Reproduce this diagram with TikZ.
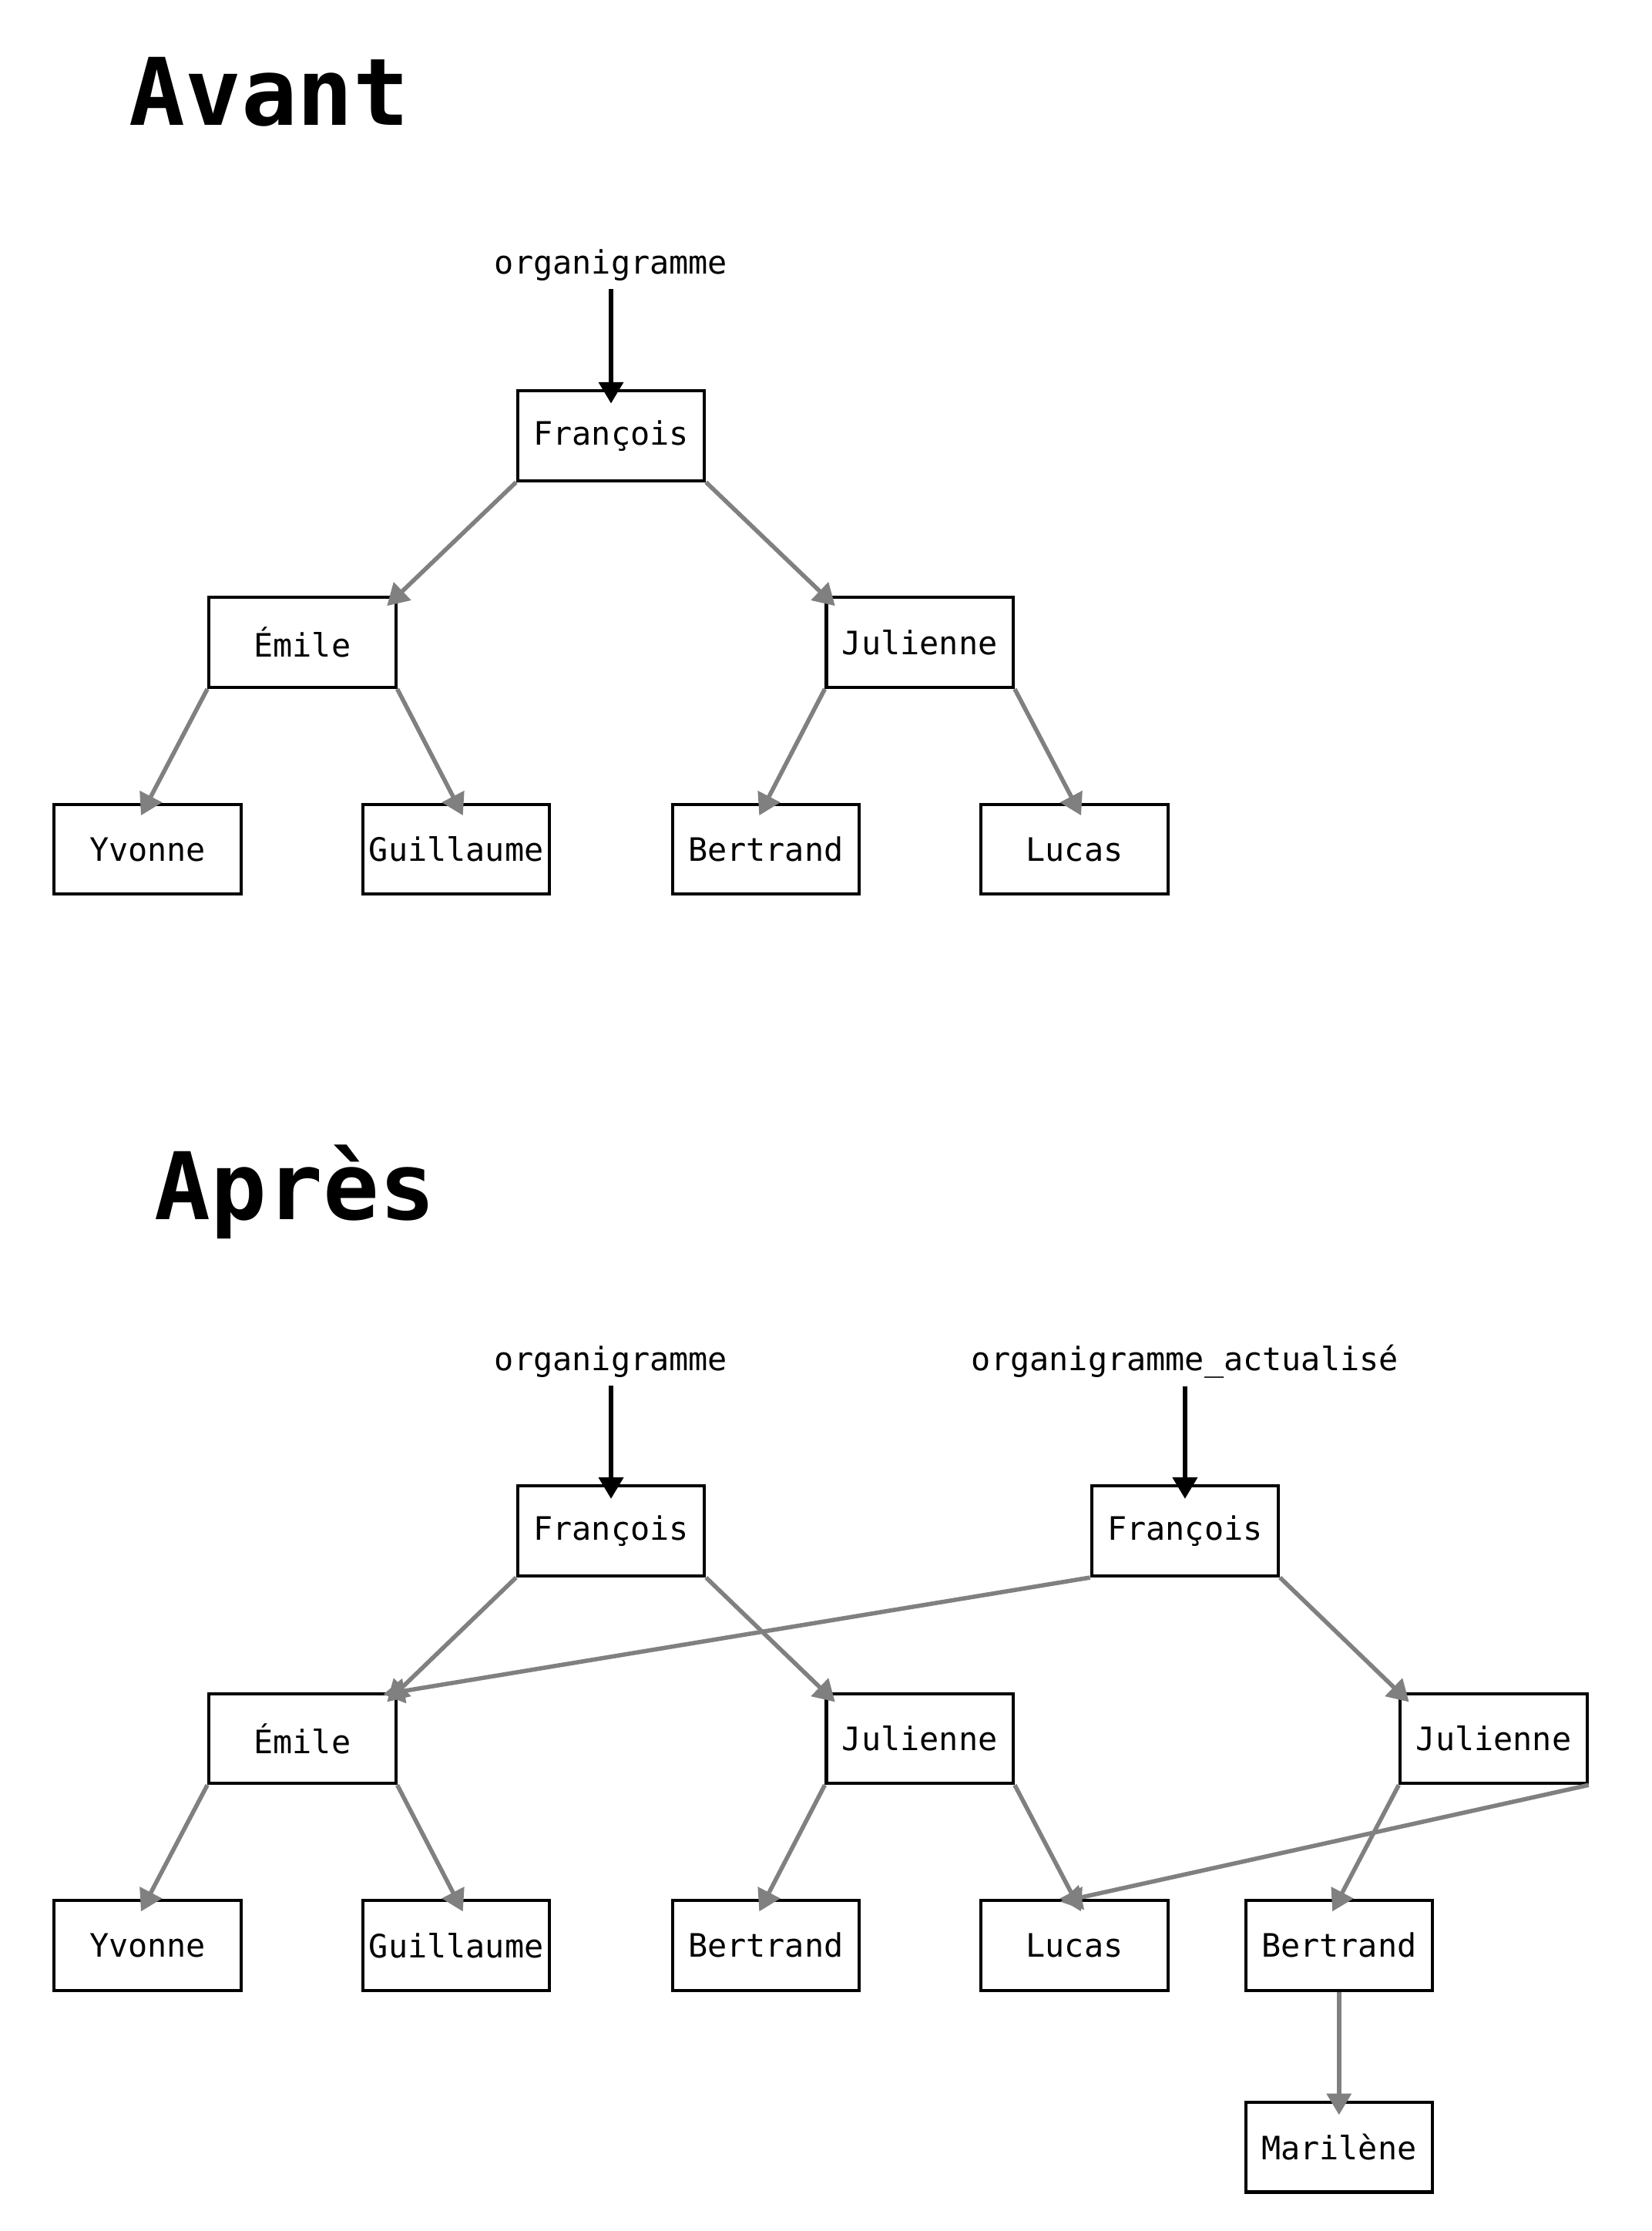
\documentclass[tikz,border=0pt]{standalone}
\usepackage{fontspec}
\setmonofont{DejaVu Sans Mono}
\usepackage{tikz}
\usetikzlibrary{arrows.meta}

\tikzset{
  box/.style={draw, line width=1.1pt, minimum width=65.5pt, minimum height=31.5pt,
    inner sep=0pt, font=\ttfamily\fontsize{11.3}{13}\selectfont},
  nom/.style={inner sep=0pt, outer sep=2.85pt, anchor=base,
    font=\ttfamily\fontsize{11.3}{13}\selectfont},
  titre/.style={inner sep=0pt, anchor=base west,
    font=\ttfamily\bfseries\fontsize{32.7}{38}\selectfont},
  lien/.style={draw=gray, line width=1.5pt, shorten >=-5pt,
    -{Triangle[length=7.5pt,width=8.5pt]}},
  ptr/.style={draw=black, line width=1.5pt, shorten >=-5pt,
    -{Triangle[length=7.5pt,width=8.5pt]}}
}

\begin{document}
\begin{tikzpicture}[x=0.5pt,y=-0.5pt]
  \useasboundingbox (0,0) rectangle (1158,1564.3);

  % avant
  \draw (90,88) node[titre] (avant) {Avant};
  \draw (428.5,192) node[nom] (org) {organigramme};
  \draw (428.5,305.5) node[box] (francois) {François};
  \draw (212,450.5) node[box] (emile) {Émile};
  \draw (645,450.5) node[box] (julienne) {Julienne};
  \draw (103.5,595.5) node[box] (yvonne) {Yvonne};
  \draw (320,595.5) node[box] (guillaume) {Guillaume};
  \draw (537,595.5) node[box] (bertrand) {Bertrand};
  \draw (753.5,595.5) node[box] (lucas) {Lucas};

  \path (org.south) edge[ptr] (francois.north);
  \path (francois.south west) edge[lien] (emile.north east);
  \path (francois.south east) edge[lien] (julienne.north west);
  \path (emile.south west) edge[lien] (yvonne.north);
  \path (emile.south east) edge[lien] (guillaume.north);
  \path (julienne.south west) edge[lien] (bertrand.north);
  \path (julienne.south east) edge[lien] (lucas.north);

  % apres
  \draw (108,855) node[titre] (apres) {Après};
  \draw (428.5,961) node[nom] (org-b) {organigramme};
  \draw (831,961) node[nom] (orgact) {organigramme\_actualisé};
  \draw (428.5,1073.5) node[box] (francois-b) {François};
  \draw (831,1073.5) node[box] (francois-c) {François};
  \draw (212,1219) node[box] (emile-b) {Émile};
  \draw (645,1219) node[box] (julienne-b) {Julienne};
  \draw (1047.5,1219) node[box] (julienne-c) {Julienne};
  \draw (103.5,1364) node[box] (yvonne-b) {Yvonne};
  \draw (320,1364) node[box] (guillaume-b) {Guillaume};
  \draw (537,1364) node[box] (bertrand-b) {Bertrand};
  \draw (753.5,1364) node[box] (lucas-b) {Lucas};
  \draw (939,1364) node[box] (bertrand-c) {Bertrand};
  \draw (939,1505.5) node[box] (marilene) {Marilène};

  \path (org-b.south) edge[ptr] (francois-b.north);
  \path (orgact.south) edge[ptr] (francois-c.north);
  \path (francois-b.south west) edge[lien] (emile-b.north east);
  \path (francois-b.south east) edge[lien] (julienne-b.north west);
  \path (francois-c.south west) edge[lien] (emile-b.north east);
  \path (francois-c.south east) edge[lien] (julienne-c.north west);
  \path (emile-b.south west) edge[lien] (yvonne-b.north);
  \path (emile-b.south east) edge[lien] (guillaume-b.north);
  \path (julienne-b.south west) edge[lien] (bertrand-b.north);
  \path (julienne-b.south east) edge[lien] (lucas-b.north);
  \path (julienne-c.south west) edge[lien] (bertrand-c.north);
  \path (julienne-c.south east) edge[lien] (lucas-b.north);
  \path (bertrand-c.south) edge[lien] (marilene.north);
\end{tikzpicture}
\end{document}
